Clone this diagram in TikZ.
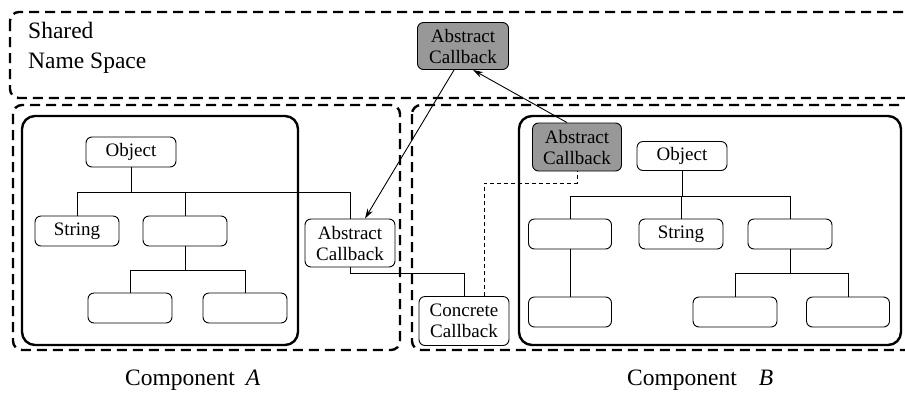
\documentclass[tikz,border=0pt]{standalone}
\usepackage{fontspec}
\setmainfont{Liberation Serif}
\usetikzlibrary{arrows.meta,calc}
\definecolor{boxgray}{RGB}{152,152,152}
\tikzset{
  bx/.style={draw, line width=0.9pt, rounded corners=6pt, inner sep=0pt,
    minimum width=#1, minimum height=30pt, align=center,
    font=\fontsize{19}{21}\selectfont},
  bx/.default=84pt,
  cb/.style={bx=90pt, minimum height=48pt},
  graycb/.style={cb, fill=boxgray},
  ln/.style={line width=0.9pt},
  thindash/.style={line width=0.9pt, dash pattern=on 4pt off 3pt},
  bigdash/.style={line width=2.4pt, dash pattern=on 10pt off 6pt, rounded corners=9pt},
  solidbox/.style={line width=2.4pt, rounded corners=13pt},
  arr/.style={line width=0.9pt, -{Stealth[length=10pt,width=6pt]}},
  lbl/.style={font=\fontsize{23.5}{28}\selectfont, inner sep=0pt}
}
\begin{document}
\begin{tikzpicture}[x=1pt,y=-1pt]
\useasboundingbox (0,0) rectangle (905,392);
% dashed regions
\draw[bigdash] (10,12) rectangle (925,98);
\draw[bigdash] (13,105) rectangle (400,350);
\draw[bigdash] (412,105) rectangle (925,350);
% solid component boxes
\draw[solidbox] (22,116) rectangle (298,345);
\draw[solidbox] (519,116) rectangle (901,345);
% labels
\node[lbl, anchor=base west] (sh1) at (28,38) {Shared};
\node[lbl, anchor=base west] (sh2) at (28,68) {Name Space};
\node[lbl, anchor=base west] (compA) at (125,385) {Component\hspace{11pt}\textit{A}};
\node[lbl, anchor=base west] (compB) at (627,385) {Component\hspace{22pt}\textit{B}};
% nodes, component A
\node[bx=90pt] (objA) at (131,152) {Object};
\node[bx] (strA) at (77,231) {String};
\node[bx] (e1A) at (185,231) {};
\node[bx] (e2A) at (130,308) {};
\node[bx] (e3A) at (245,308) {};
\node[cb] (acA) at (350,243) {Abstract\\Callback};
\node[cb, minimum height=49pt] (ccB) at (464,321) {Concrete\\Callback};
\node[graycb, minimum width=91pt, minimum height=47pt] (topAC) at (463,46) {Abstract\\Callback};
% nodes, component B
\node[graycb, minimum width=89pt] (acB) at (577,147) {Abstract\\Callback};
\node[bx=90pt, minimum height=29pt] (objB) at (682,156) {Object};
\node[bx=83pt] (e1B) at (570,234) {};
\node[bx] (strB) at (681,234) {String};
\node[bx] (e2B) at (790,234) {};
\node[bx=83pt] (e4B) at (570,312) {};
\node[bx] (e5B) at (735,312) {};
\node[bx=83pt] (e6B) at (848,312) {};
% bus coordinates
\coordinate (busA) at (0,192);
\coordinate (busA2) at (0,270);
\coordinate (busB) at (0,196);
\coordinate (busB2) at (0,273);
\coordinate (busC) at (0,273);
\coordinate (busD) at (0,183);
% tree A
\draw[ln] (objA.south) -- (objA.south |- busA);
\draw[ln] (strA.north) -- (strA.north |- busA) -- (acA.north |- busA) -- (acA.north);
\draw[ln] (e1A.north) -- (e1A.north |- busA);
\draw[ln] (e1A.south) -- (e1A.south |- busA2);
\draw[ln] (e2A.north) -- (e2A.north |- busA2) -- (e3A.north |- busA2) -- (e3A.north);
% tree B
\draw[ln] (objB.south) -- (objB.south |- busB);
\draw[ln] (e1B.north) -- (e1B.north |- busB) -- (e2B.north |- busB) -- (e2B.north);
\draw[ln] (strB.north) -- (strB.north |- busB);
\draw[ln] (e1B.south) -- (e4B.north);
\draw[ln] (e2B.south) -- (e2B.south |- busB2);
\draw[ln] (e5B.north) -- (e5B.north |- busB2) -- (e6B.north |- busB2) -- (e6B.north);
% callbacks
\draw[ln] (acA.south) -- (acA.south |- busC) -- (ccB.north |- busC) -- (ccB.north);
\draw[thindash] ([xshift=20pt]ccB.north) -- ([xshift=20pt]ccB.north |- busD) -- (acB.south |- busD) -- (acB.south);
\draw[arr] ([xshift=-9pt]topAC.south) -- ([xshift=15pt]acA.north);
\draw[arr] ([xshift=-10pt]acB.north) -- ([xshift=10pt]topAC.south);
\end{tikzpicture}
\end{document}
